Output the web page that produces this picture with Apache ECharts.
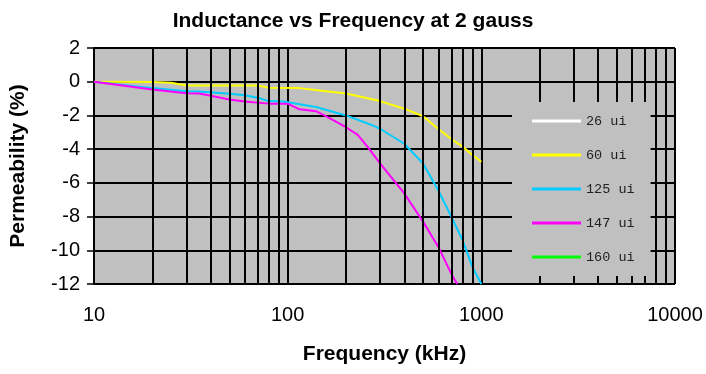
<!DOCTYPE html>
<html>
<head>
<meta charset="utf-8">
<script src="https://cdn.jsdelivr.net/npm/echarts@6/dist/echarts.min.js"></script>
<style>html,body{margin:0;padding:0;background:#fff}#c{width:706px;height:374px}</style>
</head>
<body>
<div id="c"></div>
<script>
// ---- data ----
const seriesNames = ['26 ui', '60 ui', '125 ui', '147 ui', '160 ui'];
const freq26 = [];
const perm26 = [];
const freq60 = [10, 20, 25, 30, 70, 80, 115, 150, 200, 300, 400, 500, 600, 700, 800, 900, 1000];
const perm60 = [0, -0.02, -0.06, -0.22, -0.22, -0.36, -0.38, -0.53, -0.7, -1.15, -1.6, -2.05, -2.8, -3.4, -3.85, -4.35, -4.75];
const freq125 = [10, 20, 30, 35, 50, 60, 70, 80, 95, 140, 200, 280, 300, 400, 500, 600, 700, 800, 900, 1000];
const perm125 = [0, -0.38, -0.56, -0.58, -0.72, -0.8, -0.95, -1.15, -1.17, -1.5, -2.0, -2.63, -2.79, -3.68, -4.85, -6.45, -8.0, -9.4, -11.0, -12];
const freq147 = [10, 20, 30, 35, 50, 60, 80, 100, 115, 140, 160, 200, 230, 260, 300, 400, 500, 600, 700, 750];
const perm147 = [0, -0.46, -0.68, -0.7, -1.05, -1.17, -1.3, -1.3, -1.64, -1.75, -2.08, -2.7, -3.15, -3.9, -4.85, -6.63, -8.3, -9.8, -11.4, -12];
const freq160 = [];
const perm160 = [];
const minorGridFreqs = [20, 30, 40, 50, 60, 70, 80, 90, 200, 300, 400, 500, 600, 700, 800, 900, 2000, 3000, 4000, 5000, 6000, 7000, 8000, 9000];
const xTicks = [10, 100, 1000, 10000];
const yMin = -12, yMax = 2, yStep = 2;

const zip = (a, b) => a.map((v, i) => [v, b[i]]);
const colors = ['#FFFFFF', '#FFFF00', '#00CCFF', '#FF00FF', '#00FF00'];
const datasets = [zip(freq26, perm26), zip(freq60, perm60), zip(freq125, perm125), zip(freq147, perm147), zip(freq160, perm160)];

const chart = echarts.init(document.getElementById('c'), null, {renderer: 'canvas'});
const FONT = 'Liberation Sans';

const series = [{
  name: '_grid',
  type: 'line',
  data: [[10, yMin]],
  showSymbol: false,
  lineStyle: {opacity: 0},
  silent: true,
  z: 1,
  markLine: {
    silent: true,
    symbol: ['none', 'none'],
    label: {show: false},
    animation: false,
    lineStyle: {color: '#000', width: 2, type: 'solid'},
    data: minorGridFreqs.map(v => ({xAxis: v}))
  }
}];
seriesNames.forEach((n, i) => {
  series.push({
    name: n,
    type: 'line',
    data: datasets[i],
    showSymbol: false,
    symbol: 'none',
    color: colors[i],
    lineStyle: {color: colors[i], width: 2},
    z: 3,
    animation: false
  });
});

chart.setOption({
  animation: false,
  title: {
    text: 'Inductance vs Frequency at 2 gauss',
    left: 'center', top: 6,
    textStyle: {fontFamily: FONT, fontWeight: 'bold', fontSize: 21, color: '#000'}
  },
  grid: {
    left: 94, right: 31, top: 48, bottom: 90,
    show: true, backgroundColor: '#C0C0C0', borderWidth: 0
  },
  legend: {
    data: seriesNames,
    orient: 'vertical',
    left: 512, top: 102,
    padding: [12, 16, 12, 20],
    itemGap: 20,
    itemWidth: 49, itemHeight: 3,
    icon: 'rect',
    backgroundColor: '#C0C0C0',
    textStyle: {fontFamily: 'Liberation Mono', fontSize: 13.5, color: '#222', lineHeight: 14},
    z: 10
  },
  xAxis: {
    type: 'log', logBase: 10, min: 10, max: 10000,
    name: 'Frequency (kHz)', nameLocation: 'middle', nameGap: 60,
    nameTextStyle: {fontFamily: FONT, fontWeight: 'bold', fontSize: 21, color: '#000'},
    axisLine: {show: true, lineStyle: {color: '#000', width: 2}},
    axisTick: {show: true, length: 6, lineStyle: {color: '#000', width: 1.5}},
    axisLabel: {fontFamily: FONT, fontSize: 20, color: '#000', margin: 21,
      formatter: v => String(Math.round(v))},
    splitLine: {show: true, lineStyle: {color: '#000', width: 2}}
  },
  yAxis: {
    type: 'value', min: yMin, max: yMax, interval: yStep,
    name: 'Permeability (%)', nameLocation: 'middle', nameGap: 65, nameRotate: 90,
    nameTextStyle: {fontFamily: FONT, fontWeight: 'bold', fontSize: 21, color: '#000'},
    axisLine: {show: true, lineStyle: {color: '#000', width: 2}},
    axisTick: {show: true, length: 7, lineStyle: {color: '#000', width: 1.5}},
    axisLabel: {fontFamily: FONT, fontSize: 20, color: '#000', margin: 14},
    splitLine: {show: true, lineStyle: {color: '#000', width: 2}}
  },
  series: series
});
</script>
</body>
</html>
